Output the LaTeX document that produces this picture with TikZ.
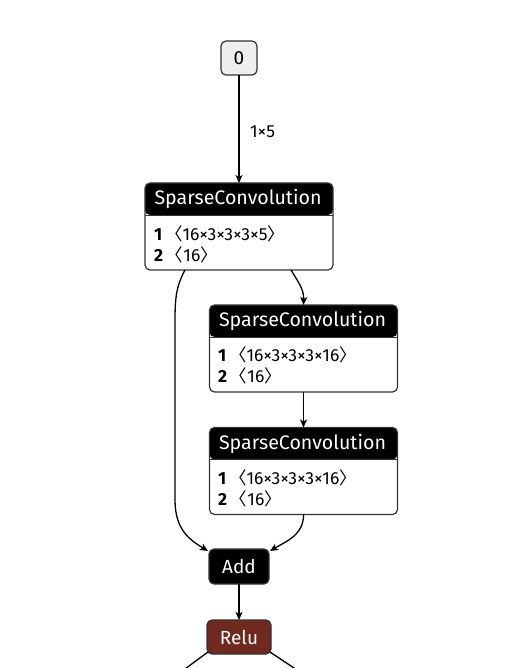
\documentclass[tikz,border=0pt]{standalone}
\usepackage{fontspec}
\setmainfont{Fira Sans}
\newfontfamily\cjk{Noto Sans CJK SC}
\usetikzlibrary{arrows.meta}
\definecolor{relured}{HTML}{70291F}
\definecolor{inputgray}{HTML}{EEEEEE}
\definecolor{edgegray}{HTML}{333333}
\newcommand{\lb}{{\cjk 〈}}
\newcommand{\rb}{{\cjk 〉}}
\tikzset{
  every node/.style={inner sep=0pt, outer sep=0pt},
  inputbox/.style={draw=edgegray, line width=1.2pt, rounded corners=5pt, fill=inputgray, minimum width=36pt, minimum height=34pt, font=\fontsize{19}{19}\selectfont},
  opbox/.style={draw=edgegray, line width=1.2pt, rounded corners=5pt, fill=black, text=white, minimum height=35pt, font=\fontsize{19}{19}\selectfont},
  convbox/.style={draw=edgegray, line width=1.2pt, rounded corners=5pt, fill=white, minimum width=188pt, minimum height=87pt,
    path picture={\fill[black] (path picture bounding box.north west) rectangle ([yshift=-32pt]path picture bounding box.north east);
      \draw[edgegray, line width=0.8pt] ([yshift=-32pt]path picture bounding box.north west) -- ([yshift=-32pt]path picture bounding box.north east);}},
  headtext/.style={text=white, font=\fontsize{19.6}{19.6}\selectfont},
  bodytext/.style={anchor=west, font=\fontsize{17.5}{17.5}\selectfont},
  edge/.style={draw=black, line width=1.3pt, -{Stealth[length=8pt,width=7pt,inset=2pt]}},
  plainedge/.style={draw=black, line width=1.3pt},
  elabel/.style={font=\fontsize{17.5}{17.5}\selectfont},
}
\begin{document}
\begin{tikzpicture}[x=1pt,y=-1pt]
\useasboundingbox (0,0) rectangle (530,668);
\clip (0,0) rectangle (530,668);
% input
\node[inputbox] (n0) at (239,58) {0};
% conv 1
\node[convbox] (sc1) at (239,226.5) {};
\node[headtext] (sc1h) at (238,199) {SparseConvolution};
\node[bodytext] (sc1a) at (154,234) {\textbf{1}\,\lb16×3×3×3×5\rb};
\node[bodytext] (sc1b) at (154,255) {\textbf{2}\,\lb16\rb};
% conv 2
\node[convbox] (sc2) at (303.5,348.5) {};
\node[headtext] (sc2h) at (302.5,321) {SparseConvolution};
\node[bodytext] (sc2a) at (218,355) {\textbf{1}\,\lb16×3×3×3×16\rb};
\node[bodytext] (sc2b) at (218,376) {\textbf{2}\,\lb16\rb};
% conv 3
\node[convbox] (sc3) at (303.5,471) {};
\node[headtext] (sc3h) at (302.5,443.5) {SparseConvolution};
\node[bodytext] (sc3a) at (218,478) {\textbf{1}\,\lb16×3×3×3×16\rb};
\node[bodytext] (sc3b) at (218,499) {\textbf{2}\,\lb16\rb};
% add, relu
\node[opbox, minimum width=60pt] (add) at (239,566.5) {Add};
\node[opbox, fill=relured, minimum width=64pt, minimum height=34pt] (relu) at (239,637) {Relu};
\coordinate (outl) at (170,680);
\coordinate (outr) at (312,680);
% edges
\draw[edge] (n0.south) -- node[elabel, right=11pt, yshift=-3pt] {1×5} (sc1.north);
\draw[edge] ([xshift=-54pt]sc1.south) .. controls (177,285) and (175,295) .. (175,320) -- (175,500) .. controls (175,530) and (190,540) .. ([xshift=-1pt,yshift=-2pt]add.north west);
\draw[edge] ([xshift=52pt]sc1.south) .. controls (299,283) and (304,290) .. (sc2.north);
\draw[edge] (sc2.south) -- (sc3.south |- sc3.north);
\draw[edge] (sc3.south) .. controls (304,535) and (285,542) .. ([xshift=1pt,yshift=-2pt]add.north east);
\draw[edge] (add.south) -- (relu.north);
\draw[plainedge] ([xshift=1pt,yshift=2pt]relu.south west) -- (outl);
\draw[plainedge] ([xshift=-1pt,yshift=2pt]relu.south east) -- (outr);
\end{tikzpicture}
\end{document}
